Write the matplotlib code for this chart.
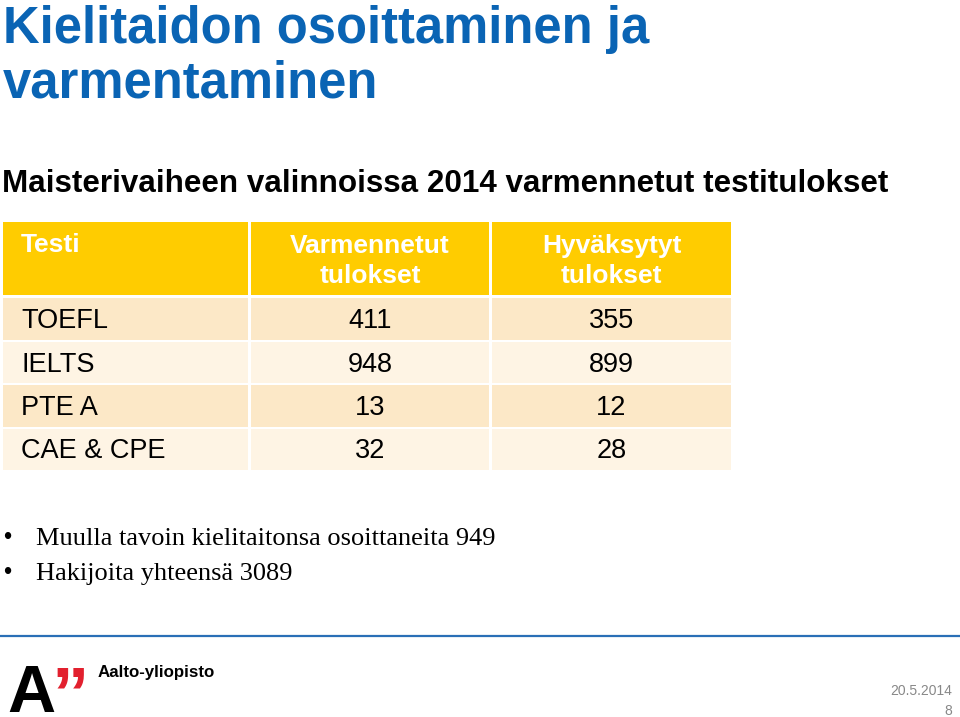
import matplotlib
matplotlib.use("Agg")
import matplotlib.pyplot as plt
from matplotlib.patches import Rectangle

# Slide content
TITLE_LINES = ["Kielitaidon osoittaminen ja", "varmentaminen"]
SUBTITLE = "Maisterivaiheen valinnoissa 2014 varmennetut testitulokset"
HEADERS = [["Testi"], ["Varmennetut", "tulokset"], ["Hyväksytyt", "tulokset"]]
TESTS = ["TOEFL", "IELTS", "PTE A", "CAE & CPE"]
VERIFIED = [411, 948, 13, 32]
ACCEPTED = [355, 899, 12, 28]
BULLETS = ["Muulla tavoin kielitaitonsa osoittaneita 949",
           "Hakijoita yhteensä 3089"]
DATE = "20.5.2014"
PAGE = "8"

BLUE = "#0a64b4"
GOLD = "#ffcc00"
ROW_COLORS = ["#fce8c7", "#fef4e4"]

fig = plt.figure(figsize=(9.6, 7.17), dpi=100)
ax = fig.add_axes([0, 0, 1, 1])
ax.set_xlim(0, 960)
ax.set_ylim(717, 0)
ax.axis("off")

sans = "Liberation Sans"
serif = "Liberation Serif"

# ── title block ───────────────────────────────────────────────
for i, line in enumerate(TITLE_LINES):
    ax.text(3, 43 + i * 55, line, ha="left", va="baseline", fontsize=36.5,
            fontweight="bold", color=BLUE, family=sans)
ax.text(2, 192, SUBTITLE, ha="left", va="baseline", fontsize=22.6,
        fontweight="bold", color="black", family=sans)

# ── table ─────────────────────────────────────────────────────
col_edges = [3, 251, 492, 734]
gap = 3
header_top, header_h = 222, 73
row_top, row_h = 298, 43.5
rows = list(zip(TESTS, VERIFIED, ACCEPTED))

for c in range(3):
    x0 = col_edges[c]
    w = col_edges[c + 1] - x0 - gap
    ax.add_patch(Rectangle((x0, header_top), w, header_h, color=GOLD, lw=0))
    for k, part in enumerate(HEADERS[c]):
        if c == 0:
            ax.text(x0 + 18, 252, part, ha="left", va="baseline",
                    fontsize=19, fontweight="bold", color="white", family=sans)
        else:
            ax.text(x0 + w / 2, 253 + k * 30, part, ha="center",
                    va="baseline", fontsize=19, fontweight="bold",
                    color="white", family=sans)

for r, vals in enumerate(rows):
    y0 = row_top + r * row_h
    base = 328 + r * row_h
    for c in range(3):
        x0 = col_edges[c]
        w = col_edges[c + 1] - x0 - gap
        ax.add_patch(Rectangle((x0, y0), w, row_h - 1.8,
                               color=ROW_COLORS[r % 2], lw=0))
        if c == 0:
            ax.text(x0 + 18, base, vals[c], ha="left", va="baseline",
                    fontsize=19.5, color="black", family=sans)
        else:
            ax.text(x0 + w / 2, base, str(vals[c]), ha="center",
                    va="baseline", fontsize=19.5, color="black", family=sans)

# ── bullets ───────────────────────────────────────────────────
for i, line in enumerate(BULLETS):
    y = 545 + i * 35
    ax.text(3, y - 1, "\u2022", ha="left", va="baseline", fontsize=17,
            family=sans)
    ax.text(36, y, line, ha="left", va="baseline", fontsize=19,
            family=serif, color="black")

# ── footer ────────────────────────────────────────────────────
ax.plot([0, 960], [636, 636], color="#2a6fb6", lw=1.6)
ax.text(7, 712, "A", ha="left", va="baseline", fontsize=48,
        fontweight="bold", family=sans, color="black")
ax.text(52, 718, "\u201d", ha="left", va="baseline", fontsize=54,
        fontweight="bold", family=sans, color="#e2202e")
ax.text(98, 677, "Aalto-yliopisto", ha="left", va="baseline", fontsize=12.2,
        fontweight="bold", family=sans, color="black")
ax.text(952, 695, DATE, ha="right", va="baseline", fontsize=10,
        family=sans, color="#888888")
ax.text(952, 715, PAGE, ha="right", va="baseline", fontsize=10,
        family=sans, color="#888888")

fig.savefig("out.png", dpi=100)
